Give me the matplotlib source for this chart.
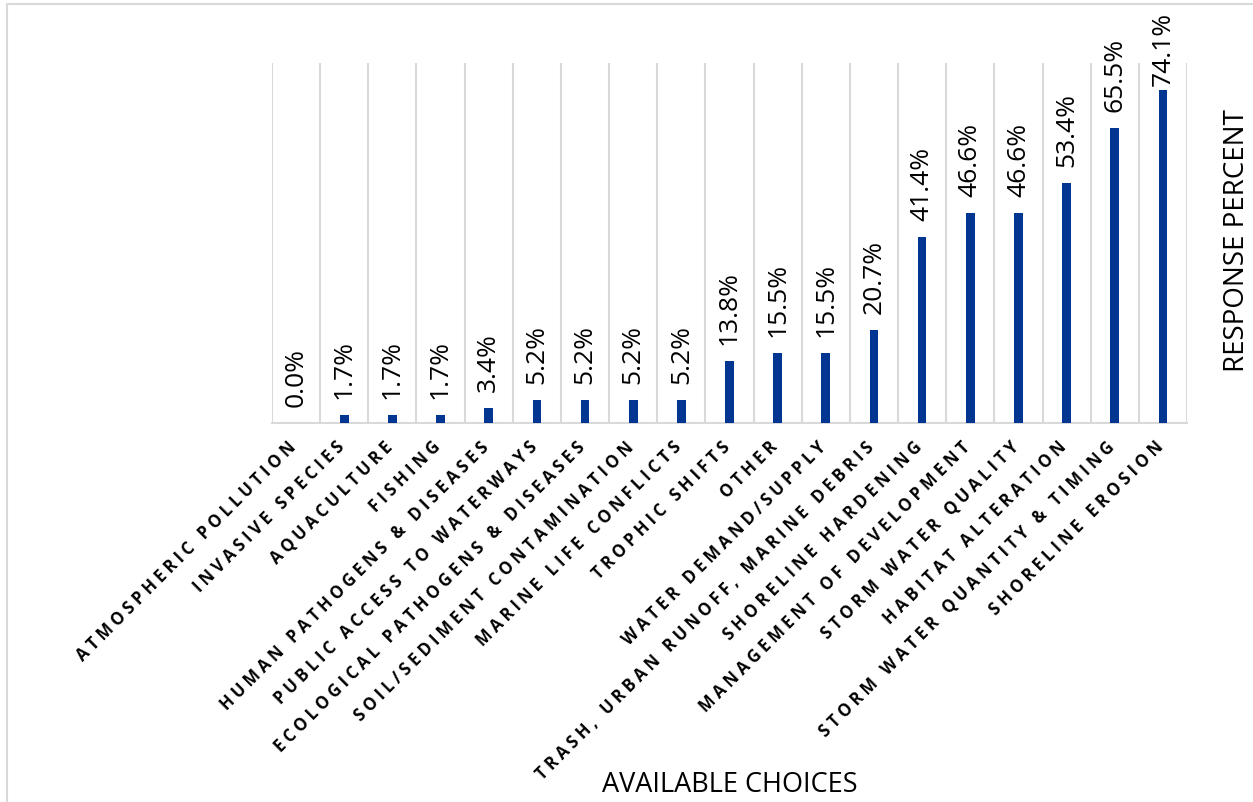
import numpy as np
import matplotlib
matplotlib.use('Agg')
import matplotlib.pyplot as plt
from matplotlib.patches import Rectangle

choices = ['ATMOSPHERIC POLLUTION', 'INVASIVE SPECIES', 'AQUACULTURE', 'FISHING',
           'HUMAN PATHOGENS & DISEASES', 'PUBLIC ACCESS TO WATERWAYS',
           'ECOLOGICAL PATHOGENS & DISEASES', 'SOIL/SEDIMENT CONTAMINATION',
           'MARINE LIFE CONFLICTS', 'TROPHIC SHIFTS', 'OTHER', 'WATER DEMAND/SUPPLY',
           'TRASH, URBAN RUNOFF, MARINE DEBRIS', 'SHORELINE HARDENING',
           'MANAGEMENT OF DEVELOPMENT', 'STORM WATER QUALITY', 'HABITAT ALTERATION',
           'STORM WATER QUANTITY & TIMING', 'SHORELINE EROSION']
percent = [0.0, 1.7, 1.7, 1.7, 3.4, 5.2, 5.2, 5.2, 5.2, 13.8, 15.5, 15.5, 20.7,
           41.4, 46.6, 46.6, 53.4, 65.5, 74.1]

bar_col = '#003591'
grid_col = '#d9d9d9'
font = ['Open Sans', 'DejaVu Sans']
plt.rcParams['font.family'] = font

# widen the category labels a bit (letter spacing)
def spaced(s):
    return '\u2005'.join(s)

W, H = 1253, 803
fig = plt.figure(figsize=(W / 100, H / 100), dpi=100)
ax = fig.add_axes([272 / W, 1 - 424 / H, (1187 - 272) / W, (424 - 64) / H])

x = np.arange(len(choices))
ax.bar(x, percent, width=0.18, color=bar_col, zorder=3)
ax.set_xlim(-0.5, len(choices) - 0.5)
ax.set_ylim(0, 80)

# vertical separators between categories
ax.vlines(np.arange(-0.5, len(choices)), 0, 80, color=grid_col, lw=1.5, zorder=1)
for s in ['top', 'left', 'right']:
    ax.spines[s].set_visible(False)
ax.spines['bottom'].set_color(grid_col)
ax.spines['bottom'].set_linewidth(1.5)
ax.set_yticks([])
ax.set_xticks([])

for i, name in enumerate(choices):
    ax.annotate(spaced(name), xy=(i, 0), xycoords=('data', 'axes fraction'),
                xytext=(1, -24), textcoords='offset pixels',
                rotation=45, rotation_mode='anchor', ha='right', va='baseline',
                fontsize=12, fontweight='bold', color='black')

labels = []
for i, v in enumerate(percent):
    t = ax.annotate(f'{v:.1f}%', xy=(i, v), xytext=(0, 17), textcoords='offset pixels',
                    rotation=90, ha='center', va='bottom', fontsize=19, color='black')
    labels.append(t)

fig.text(1237 / W, 1 - 241 / H, 'RESPONSE PERCENT', rotation=90, ha='center',
         va='center', fontsize=20, color='black')
fig.text((272 + 1187) / 2 / W, 1 - 785 / H, 'AVAILABLE CHOICES', ha='center',
         va='center', fontsize=19.5, color='black')

fig.patches.append(Rectangle((7 / W, -0.1), 1.2, 1.1 - 5 / H, transform=fig.transFigure,
                             fill=False, edgecolor=grid_col, lw=1.5))

# keep value labels inside the figure
fig.canvas.draw()
r = fig.canvas.get_renderer()
for t in labels:
    ext = t.get_window_extent(r)
    if ext.y1 > H - 12:
        t.xyann = (0, 17 - (ext.y1 - (H - 12)))

fig.savefig('out.png', dpi=100)
